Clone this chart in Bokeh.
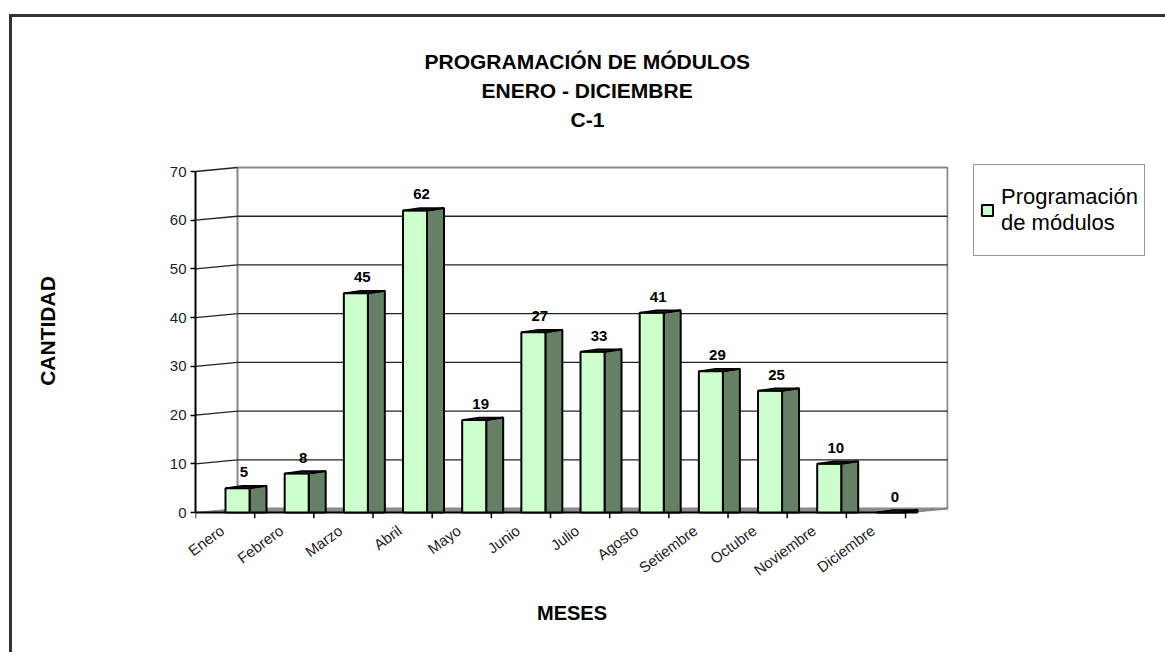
from bokeh.plotting import figure
from bokeh.models import (Range1d, FixedTicker, LinearAxis, Title, Legend, LegendItem,
                          ColumnDataSource)
from bokeh.core.properties import value
from bokeh.embed import file_html
from bokeh.resources import INLINE

# ---------------- data ----------------
months = ["Enero", "Febrero", "Marzo", "Abril", "Mayo", "Junio", "Julio",
          "Agosto", "Setiembre", "Octubre", "Noviembre", "Diciembre"]
counts = [5, 8, 45, 62, 19, 37, 33, 41, 29, 25, 10, 0]
count_labels = ["5", "8", "45", "62", "19", "27", "33", "41", "29", "25", "10", "0"]
y_ticks = [0, 10, 20, 30, 40, 50, 60, 70]
title_lines = ["PROGRAMACIÓN DE MÓDULOS", "ENERO - DICIEMBRE", "C-1"]
series_name = "Programación\nde módulos"
x_title = "MESES"
y_title = "CANTIDAD"

# ---------------- style ----------------
FONT = "Liberation Sans"
LIGHT = "#CCFFCC"
DARK = "#668066"
DX, DY = 0.71, 0.82          # depth offset of the back wall
FACE_L, FACE_R, SIDE_R = 0.507, 0.913, 1.20
TOP_D = 0.5
N = len(months)
YMAX = y_ticks[-1]
TITLE_OFFSETS = [229, 286, 375]   # left offsets (px) so the lines centre at the chart middle

p = figure(frame_width=753, frame_height=375,
           x_range=Range1d(0, 12.726), y_range=Range1d(-1.23, 75.75),
           x_axis_type=None, y_axis_type=None,
           min_border_left=183, min_border_right=209,
           min_border_top=126, min_border_bottom=134,
           output_backend="svg", toolbar_location=None, title=None)
p.outline_line_color = None
p.background_fill_color = "white"
p.border_fill_color = "white"
p.margin = (14, 0, 0, 9)
p.styles = {"border-top": "3px solid #333333", "border-left": "3px solid #333333"}

# back wall
p.patch([DX, N + DX, N + DX, DX], [DY, DY, YMAX + DY, YMAX + DY],
        fill_color="white", line_color="#888888", line_width=2)
# grid lines on back wall
gv = y_ticks[1:-1]
p.segment(x0=[DX] * len(gv), x1=[N + DX] * len(gv),
          y0=[v + DY for v in gv], y1=[v + DY for v in gv],
          line_color="#222222", line_width=1.3)
# diagonals on left wall
dv = y_ticks[1:]
p.segment(x0=[0] * len(dv), x1=[DX] * len(dv), y0=dv, y1=[v + DY for v in dv],
          line_color="#222222", line_width=1.3)
# floor
p.patch([0, N, N + DX, DX], [0, 0, DY, DY], fill_color="#8c8c8c",
        line_color="#8c8c8c", line_width=1)
p.segment(x0=[N], y0=[0], x1=[N + DX], y1=[DY], line_color="#888888", line_width=2)
# x axis line and ticks
p.segment(x0=[0], y0=[0], x1=[N], y1=[0], line_color="black", line_width=2)
p.segment(x0=list(range(N + 1)), x1=list(range(N + 1)),
          y0=[0] * (N + 1), y1=[-1.23] * (N + 1), line_color="black", line_width=1.5)

# bars
idx = list(range(N))
side_xs = [[i + FACE_R, i + SIDE_R, i + SIDE_R, i + FACE_R] for i in idx]
side_ys = [[0, 0, v + TOP_D, v] for v in counts]
p.patches(side_xs, side_ys, fill_color=DARK, line_color="black", line_width=2)

src = ColumnDataSource(dict(left=[i + FACE_L for i in idx],
                            right=[i + FACE_R for i in idx], top=counts))
front = p.quad(left="left", right="right", bottom=0, top="top", source=src,
               fill_color=LIGHT, line_color="black", line_width=2)

top_xs = [[i + FACE_L, i + FACE_R, i + SIDE_R, i + FACE_L + (SIDE_R - FACE_R)] for i in idx]
top_ys = [[v, v, v + TOP_D, v + TOP_D] for v in counts]
p.patches(top_xs, top_ys, fill_color="#1a1a1a", line_color="black", line_width=1.5)

# value labels
p.text(x=[i + 0.82 for i in idx], y=counts, text=count_labels,
       text_align="center", text_baseline="bottom", y_offset=-11,
       text_font=value(FONT), text_font_style="bold", text_font_size="15px",
       text_color="black")

# axes
yax = LinearAxis(ticker=FixedTicker(ticks=y_ticks), bounds=(0, YMAX),
                 axis_line_color="black", axis_line_width=2,
                 major_tick_line_color="black", major_tick_line_width=1.5,
                 major_tick_in=0, major_tick_out=5, minor_tick_line_color=None,
                 major_label_text_font=FONT, major_label_text_font_size="15px",
                 major_label_text_color="#222222", major_label_standoff=4,
                 axis_label=y_title, axis_label_text_font=FONT,
                 axis_label_text_font_style="bold", axis_label_text_font_size="21px",
                 axis_label_text_color="black", axis_label_standoff=108)
p.add_layout(yax, "left")

centers = [i + 0.45 for i in idx]
xax = LinearAxis(ticker=FixedTicker(ticks=centers),
                 major_label_overrides={c: m for c, m in zip(centers, months)},
                 bounds=(0, N + DX), axis_line_color=None,
                 major_tick_line_color=None, minor_tick_line_color=None,
                 major_label_orientation=0.64, major_label_text_font=FONT,
                 major_label_text_font_size="15px", major_label_text_color="#222222",
                 major_label_standoff=4,
                 axis_label=x_title, axis_label_text_font=FONT,
                 axis_label_text_font_style="bold", axis_label_text_font_size="20px",
                 axis_label_text_color="black", axis_label_standoff=14)
p.add_layout(xax, "below")

# titles (first added sits closest to the frame); a thin blank spacer first
p.add_layout(Title(text=" ", text_font=FONT, text_font_size="2px", standoff=7), "above")
for text, off in reversed(list(zip(title_lines, TITLE_OFFSETS))):
    p.add_layout(Title(text=text, align="left", offset=off, text_font=FONT,
                       text_font_style="bold", text_font_size="21px",
                       text_color="black", standoff=4), "above")

# legend
legend = Legend(items=[LegendItem(label=series_name, renderers=[front])],
                location=(25, 262), margin=0, padding=6,
                border_line_color="#333333", border_line_width=1.5,
                background_fill_color="white",
                label_text_font=FONT, label_text_font_size="22px",
                label_text_color="black", label_height=78,
                glyph_width=14, glyph_height=14, label_standoff=7)
p.add_layout(legend, "right")

open("out.html", "w").write(file_html(p, INLINE))
